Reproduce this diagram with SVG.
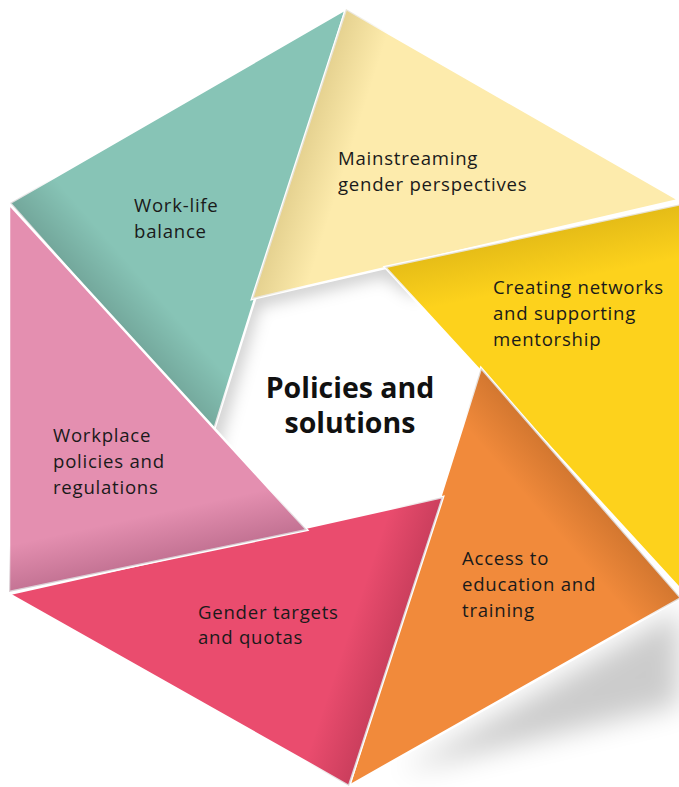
<svg xmlns="http://www.w3.org/2000/svg" width="679" height="787" viewBox="0 0 679 787">
<style>
.blade{stroke:#fff;stroke-width:2.5;stroke-linejoin:miter}
.lbl{font-family:"Open Sans","Liberation Sans",sans-serif;font-size:18.6px;letter-spacing:0.75px;fill:#1a1a1a}
.title{font-family:"Open Sans","Liberation Sans",sans-serif;font-size:28.5px;font-weight:bold;fill:#111;text-anchor:middle}
</style>
<defs>
<filter id="blur8" x="-50%" y="-50%" width="200%" height="200%"><feGaussianBlur stdDeviation="8"/></filter>
<filter id="blur14" x="-50%" y="-50%" width="200%" height="200%"><feGaussianBlur stdDeviation="14"/></filter>
<clipPath id="centerClip"><polygon points="252,299 385,267 481,368 443,497 307,530 213,433"/></clipPath>
<linearGradient id="shTeal" gradientUnits="userSpaceOnUse" x1="130" y1="345" x2="170" y2="310"><stop offset="0" stop-color="#000" stop-opacity="0.16"/><stop offset="1" stop-color="#000" stop-opacity="0"/></linearGradient>
<linearGradient id="shYel" gradientUnits="userSpaceOnUse" x1="275" y1="215" x2="325" y2="231"><stop offset="0" stop-color="#6b5000" stop-opacity="0.18"/><stop offset="1" stop-color="#6b5000" stop-opacity="0"/></linearGradient>
<linearGradient id="shGold" gradientUnits="userSpaceOnUse" x1="530" y1="236" x2="540" y2="286"><stop offset="0" stop-color="#7a5a00" stop-opacity="0.18"/><stop offset="1" stop-color="#7a5a00" stop-opacity="0"/></linearGradient>
<linearGradient id="shOr" gradientUnits="userSpaceOnUse" x1="580" y1="482" x2="542" y2="515"><stop offset="0" stop-color="#5a2a00" stop-opacity="0.2"/><stop offset="1" stop-color="#5a2a00" stop-opacity="0"/></linearGradient>
<linearGradient id="shRed" gradientUnits="userSpaceOnUse" x1="395" y1="642" x2="350" y2="627"><stop offset="0" stop-color="#400010" stop-opacity="0.18"/><stop offset="1" stop-color="#400010" stop-opacity="0"/></linearGradient>
<linearGradient id="shPink" gradientUnits="userSpaceOnUse" x1="158" y1="561" x2="148" y2="515"><stop offset="0" stop-color="#400020" stop-opacity="0.2"/><stop offset="1" stop-color="#400020" stop-opacity="0"/></linearGradient>
</defs>
<rect width="679" height="787" fill="#fff"/>
<polygon points="679,610 400,772 679,705" fill="#000" opacity="0.2" filter="url(#blur14)"/>
<g id="center">
<polygon points="252,299 385,267 481,368 443,497 307,530 213,433" fill="#fff"/>
<g clip-path="url(#centerClip)"><polyline points="205,470 213,433 252,299 385,267 420,290" fill="none" stroke="#000" stroke-opacity="0.2" stroke-width="18" filter="url(#blur8)"/></g>
<text class="title" x="350" y="398">Policies and</text>
<text class="title" x="350" y="433">solutions</text>
</g>
<g id="work-life">
<polygon class="blade" points="10,203 346,9 213,433" fill="#87C4B6"/>
<polygon points="10,203 346,9 213,433" fill="url(#shTeal)"/>
<text class="lbl" x="134" y="212">Work-life</text>
<text class="lbl" x="134" y="238">balance</text>
</g>
<g id="mainstreaming">
<polygon class="blade" points="346,9 679,200 252,299" fill="#FDEBAC"/>
<polygon points="346,9 679,200 252,299" fill="url(#shYel)"/>
<text class="lbl" x="338" y="165">Mainstreaming</text>
<text class="lbl" x="338" y="191">gender perspectives</text>
</g>
<g id="networks">
<polygon class="blade" points="385,267 681,204 681,590" fill="#FDD21C"/>
<polygon points="385,267 681,204 681,590" fill="url(#shGold)"/>
<text class="lbl" x="493" y="294">Creating networks</text>
<text class="lbl" x="493" y="320">and supporting</text>
<text class="lbl" x="493" y="346">mentorship</text>
</g>
<g id="education">
<polygon class="blade" points="481,368 681,598 349,786" fill="#F18A3B"/>
<polygon points="481,368 681,598 349,786" fill="url(#shOr)"/>
<text class="lbl" x="462" y="565">Access to</text>
<text class="lbl" x="462" y="591">education and</text>
<text class="lbl" x="462" y="617">training</text>
</g>
<g id="quotas">
<polygon class="blade" points="9,594 443,497 349,786" fill="#EA4C6E"/>
<polygon points="9,594 443,497 349,786" fill="url(#shRed)"/>
<text class="lbl" x="198" y="619">Gender targets</text>
<text class="lbl" x="198" y="644">and quotas</text>
</g>
<g id="workplace">
<polygon class="blade" points="9,204 307,530 9,592" fill="#E48FB0"/>
<polygon points="9,204 307,530 9,592" fill="url(#shPink)"/>
<text class="lbl" x="53" y="442">Workplace</text>
<text class="lbl" x="53" y="468">policies and</text>
<text class="lbl" x="53" y="494">regulations</text>
</g>
</svg>
